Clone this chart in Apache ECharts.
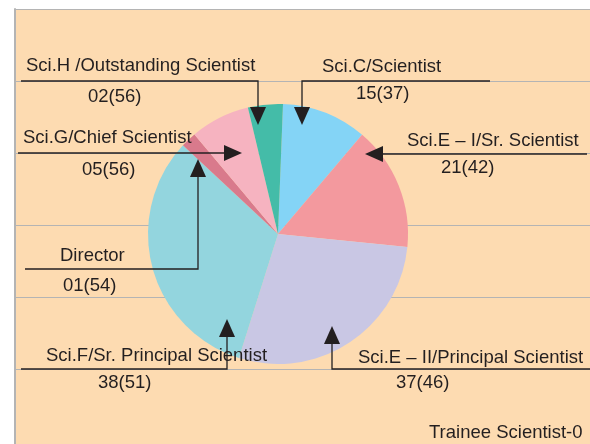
<!DOCTYPE html>
<html>
<head>
<meta charset="utf-8">
<script src="https://cdn.jsdelivr.net/npm/echarts@6/dist/echarts.min.js"></script>
<style>
  html, body { margin: 0; padding: 0; background: #fff; }
  #chart { width: 590px; height: 444px; }
</style>
</head>
<body>
<div id="chart"></div>
<script>
// grades, clockwise from the top of the pie
const grades = [
  'Sci.C/Scientist',
  'Sci.E – I/Sr. Scientist',
  'Sci.E – II/Principal Scientist',
  'Sci.F/Sr. Principal Scientist',
  'Director',
  'Sci.G/Chief Scientist',
  'Sci.H /Outstanding Scientist',
];
const staffCount = [15, 21, 37, 38, 1, 5, 2];
const bracketValue = [37, 42, 46, 51, 54, 56, 56];
// wedge sizes as they are drawn (degrees), the original is not to scale with the counts
const wedgeSize = [38.1, 55.4, 101.8, 115.5, 7, 26.6, 15.6];
const sliceColors = ['#84d4f6', '#f3999e', '#c9c7e4', '#93d5de', '#d97a8c', '#f6b3c0', '#44bca8'];
const footNote = 'Trainee Scientist-0';

const ink = '#231f20';
const peach = '#fddbb1';
const rule = '#b4b4b4';
const font = '"Liberation Sans", Arial, sans-serif';

// where each call-out sits: label baselines, leader line, arrow tip
const callouts = [
  { name: [322, 73], value: [356, 100], line: [[490, 81], [302, 81], [302, 107]], tip: [302, 125] },
  { name: [407, 147], value: [441, 174], line: [[587, 154], [383, 154]], tip: [365, 154] },
  { name: [358, 364], value: [396, 389], line: [[590, 369], [332, 369], [332, 344]], tip: [332, 326] },
  { name: [46, 362], value: [98, 389], line: [[21, 369], [227, 369], [227, 337]], tip: [227, 319] },
  { name: [60, 262], value: [63, 292], line: [[25, 269], [198, 269], [198, 177]], tip: [198, 159] },
  { name: [23, 144], value: [82, 176], line: [[18, 153], [224, 153]], tip: [242, 153] },
  { name: [26, 72], value: [88, 103], line: [[21, 81], [258, 81], [258, 107]], tip: [258, 125] },
];

const textEl = (text, pos) => ({
  type: 'text',
  x: pos[0],
  y: pos[1] - 6.5,
  z: 10,
  style: {
    text,
    fill: ink,
    font: `18.5px ${font}`,
    align: 'left',
    verticalAlign: 'middle',
  },
});

const arrowHead = (base, tip) => {
  const dx = tip[0] - base[0];
  const dy = tip[1] - base[1];
  const len = Math.sqrt(dx * dx + dy * dy);
  const nx = -dy / len * 8;
  const ny = dx / len * 8;
  return [tip, [base[0] + nx, base[1] + ny], [base[0] - nx, base[1] - ny]];
};

const graphics = [];
callouts.forEach((c, i) => {
  const label = `${String(staffCount[i]).padStart(2, '0')}(${bracketValue[i]})`;
  graphics.push(textEl(grades[i], c.name));
  graphics.push(textEl(label, c.value));
  graphics.push({
    type: 'polyline',
    z: 10,
    shape: { points: c.line },
    style: { stroke: ink, lineWidth: 1.3, fill: null },
  });
  graphics.push({
    type: 'polygon',
    z: 10,
    shape: { points: arrowHead(c.line[c.line.length - 1], c.tip) },
    style: { fill: ink },
  });
});
graphics.push(textEl(footNote, [429, 439]));

const chart = echarts.init(document.getElementById('chart'), null, { renderer: 'canvas' });
chart.setOption({
  backgroundColor: '#ffffff',
  animation: false,
  grid: {
    left: 15,
    top: 9,
    right: 0,
    bottom: 0,
    show: true,
    backgroundColor: peach,
    borderWidth: 0,
  },
  xAxis: { type: 'value', show: false, min: 0, max: 1 },
  yAxis: {
    type: 'value',
    inverse: true,
    min: 0,
    max: 435 / 72,
    interval: 1,
    axisLabel: { show: false },
    axisTick: { show: false },
    axisLine: { show: true, lineStyle: { color: rule, width: 2 } },
    splitLine: {
      show: true,
      lineStyle: {
        color: [rule, rule, rule, rule, rule, rule, 'transparent', 'transparent'],
        width: 1.2,
      },
    },
  },
  series: [{
    type: 'pie',
    center: [278, 234],
    radius: 130,
    startAngle: 87.8,
    clockwise: true,
    silent: true,
    label: { show: false },
    labelLine: { show: false },
    emphasis: { disabled: true },
    itemStyle: { borderWidth: 0 },
    data: grades.map((name, i) => ({
      name,
      value: wedgeSize[i],
      itemStyle: { color: sliceColors[i] },
    })),
  }],
  graphic: graphics,
});
</script>
</body>
</html>
